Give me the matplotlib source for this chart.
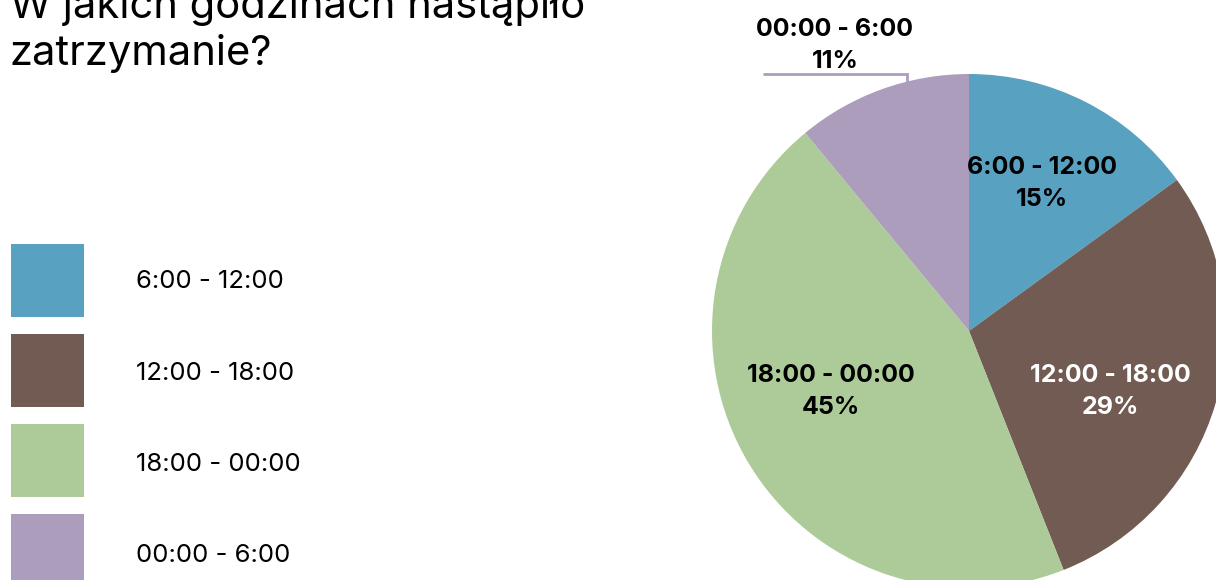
import matplotlib
matplotlib.use("Agg")
import matplotlib.pyplot as plt
from matplotlib.patches import Rectangle

plt.rcParams['font.family'] = ['Inter', 'DejaVu Sans']

title_lines = ["W jakich godzinach nastąpiło", "zatrzymanie?"]
categories = ["6:00 - 12:00", "12:00 - 18:00", "18:00 - 00:00", "00:00 - 6:00"]
shares = [15, 29, 45, 11]
colors = ["#58A1C0", "#725B53", "#ADCB99", "#AC9DBD"]
label_colors = ["black", "white", "black", "black"]

W, H = 1216, 580
fig = plt.figure(figsize=(W / 100, H / 100), dpi=100)
ax = fig.add_axes([0, 0, 1, 1])


def Y(y):
    # pixel row (from top) to data y (from bottom)
    return H - y


cx, cy, r = 969, 331, 257
ax.pie(shares, colors=colors, startangle=90, counterclock=False,
       center=(cx, Y(cy)), radius=r, frame=True,
       wedgeprops=dict(linewidth=0))
ax.set_xlim(0, W)
ax.set_ylim(0, H)
ax.set_aspect('equal')
ax.axis('off')

# slice labels
label_pos = [(1042, 184), (1110, 391), (831, 391), (835, 46)]
for cat, val, (lx, ly), col in zip(categories, shares, label_pos, label_colors):
    ax.text(lx, Y(ly), f"{cat}\n{val}%", ha='center', va='center',
            fontsize=18, fontweight='bold', color=col, linespacing=1.5)

# leader line for the small slice
ax.plot([763, 907, 907], [Y(74), Y(74), Y(82)], color=colors[3], lw=2,
        solid_capstyle='butt', solid_joinstyle='miter')

# title
ax.text(10, Y(18), title_lines[0], ha='left', va='baseline', fontsize=30)
ax.text(10, Y(65), title_lines[1], ha='left', va='baseline', fontsize=30)

# legend
for i, (cat, col) in enumerate(zip(categories, colors)):
    top = 244 + 90 * i
    ax.add_patch(Rectangle((11, Y(top + 73)), 73, 73, facecolor=col,
                           edgecolor='none'))
    ax.text(136, Y(282 + 91.2 * i), cat, ha='left', va='center',
            fontsize=18.5)

fig.savefig("out.png", dpi=100)
